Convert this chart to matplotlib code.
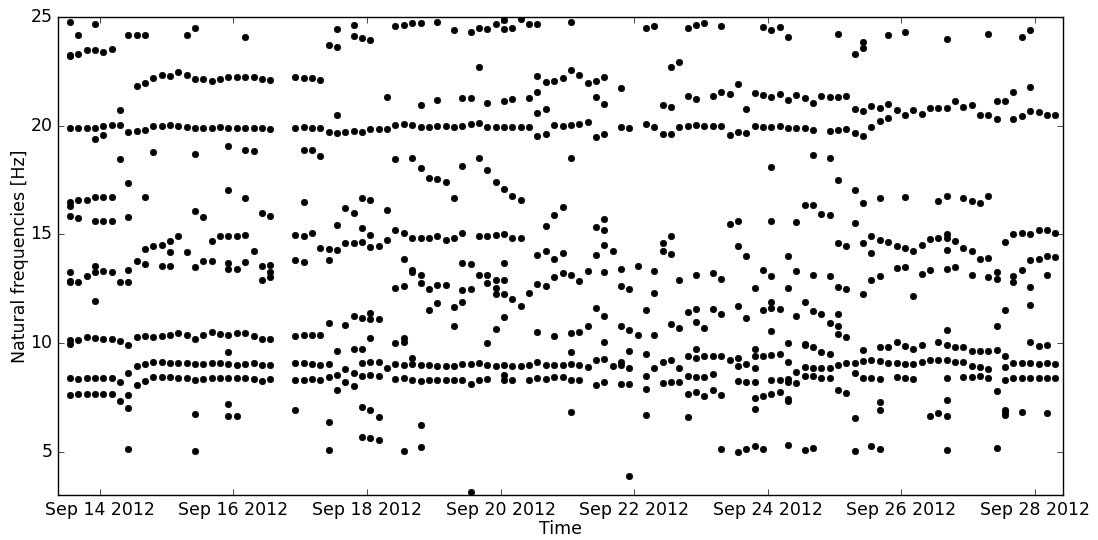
import matplotlib
matplotlib.use('Agg')  # headless
import matplotlib.pyplot as plt
import matplotlib.dates as mdates
import pandas as pd

# --- Data: natural frequencies [Hz] identified every 3 h (one list per time step) ---
START_TIME = '2012-09-13 13:15'
STEP = '3h'

freqs_block1 = [  # Sep 13 afternoon -> Sep 15
    [24.78, 23.2, 23.25, 19.9, 16.5, 16.3, 15.85, 13.25, 12.8, 12.86, 10.12, 9.94, 8.39, 7.6],
    [24.16, 23.28, 19.9, 16.6, 15.74, 12.79, 10.14, 8.34, 7.67],
    [23.47, 19.9, 16.6, 13.1, 10.26, 8.39, 7.64],
    [24.68, 23.47, 19.9, 19.39, 16.72, 15.63, 13.52, 13.26, 11.94, 10.23, 8.39, 7.64],
    [23.4, 20.0, 19.56, 16.72, 15.59, 13.31, 10.18, 8.4, 7.64],
    [23.51, 20.05, 16.72, 15.63, 13.25, 10.18, 8.4, 7.64],
    [20.72, 20.02, 18.47, 12.79, 10.11, 8.19, 7.35],
    [24.16, 19.7, 17.38, 15.79, 13.37, 12.79, 9.91, 8.62, 7.59, 7.01, 5.1],
    [24.16, 21.83, 19.77, 13.75, 10.25, 8.93, 8.08],
    [24.16, 21.95, 19.8, 16.72, 14.33, 13.63, 10.34, 9.03, 8.27],
    [22.21, 19.99, 18.81, 14.45, 10.27, 9.13, 8.44],
    [22.35, 20.0, 14.52, 13.55, 10.34, 9.13, 8.44],
    [22.3, 20.05, 14.7, 14.18, 13.55, 10.38, 9.08, 8.44],
    [22.47, 19.99, 14.9, 10.46, 9.06, 8.4],
    [24.16, 22.32, 19.96, 14.18, 10.35, 9.08, 8.4],
    [24.48, 22.15, 19.91, 18.7, 16.05, 13.48, 10.2, 9.02, 8.31, 6.73, 5.03],
    [22.13, 19.9, 15.79, 13.75, 10.37, 9.03, 8.33],
    [22.07, 19.91, 14.7, 13.75, 10.52, 9.06, 8.4],
    [22.15, 19.92, 14.9, 10.4, 9.06, 8.4],
]

freqs_block2 = [  # Sep 15 -> Sep 18 (short outage on Sep 16 evening)
    [22.22, 19.91, 19.05, 17.06, 14.93, 13.68, 13.42, 10.35, 9.57, 9.05, 8.4, 7.18, 6.63],
    [22.22, 19.91, 14.93, 13.42, 10.44, 9.0, 8.4, 6.63],
    [24.09, 22.22, 19.91, 18.9, 16.65, 14.97, 13.71, 10.44, 9.05, 8.4],
    [22.22, 19.91, 18.82, 14.22, 10.32, 9.08, 8.34],
    [22.16, 19.88, 15.97, 13.52, 12.91, 10.17, 8.97, 8.25],
    [22.09, 19.83, 15.82, 13.6, 13.25, 13.03, 10.17, 8.97, 8.36],
    [],
    [],
    [22.22, 19.88, 14.97, 13.83, 10.32, 9.08, 8.31, 6.9],
    [22.19, 19.93, 18.9, 16.48, 14.9, 13.72, 10.37, 9.08, 8.31],
    [22.21, 19.9, 18.9, 15.05, 10.37, 9.05, 8.34],
    [22.09, 19.9, 18.62, 14.39, 10.37, 8.97, 8.31],
    [23.73, 19.7, 14.3, 13.8, 10.92, 9.03, 8.42, 6.37, 5.05],
    [24.43, 23.62, 20.48, 19.65, 15.42, 14.28, 9.62, 8.51, 7.82],
    [19.71, 16.23, 14.58, 10.84, 8.8, 8.22],
    [24.65, 24.11, 19.76, 15.96, 14.58, 11.24, 9.72, 8.62, 8.02],
    [24.02, 19.71, 16.68, 15.27, 14.64, 11.15, 9.72, 9.08, 8.47, 7.04, 5.68],
    [23.96, 19.83, 16.58, 14.96, 14.42, 11.38, 11.1, 10.24, 9.13, 8.51, 6.9, 5.63],
    [19.83, 14.47, 11.12, 9.11, 8.47, 6.58, 5.54],
    [21.3, 19.85, 16.12, 14.75, 8.83],
]

freqs_block3 = [  # Sep 18 -> Sep 20
    [24.6, 20.02, 18.45, 15.21, 12.53, 9.98, 9.02, 8.34],
    [24.63, 20.08, 15.05, 13.86, 12.63, 10.23, 10.03, 9.0, 8.37, 5.02],
    [24.74, 20.02, 18.5, 14.84, 13.34, 13.25, 9.3, 9.05, 8.31],
    [24.74, 20.94, 19.96, 18.03, 14.84, 13.14, 12.76, 9.0, 8.27, 6.23, 5.2],
    [19.96, 17.58, 14.84, 12.5, 11.5, 9.0, 8.28],
    [24.77, 21.18, 19.97, 17.53, 14.9, 12.68, 11.84, 8.96, 8.28],
    [20.0, 17.4, 14.75, 12.67, 8.96, 8.28],
    [24.4, 19.93, 16.68, 14.85, 11.65, 10.78, 8.96, 8.31],
    [21.26, 20.0, 18.15, 15.08, 13.68, 12.42, 11.87, 9.02, 8.3],
    [24.32, 21.29, 20.06, 13.62, 12.5, 9.05, 8.13, 3.13],
    [24.49, 22.68, 20.1, 18.53, 14.9, 13.14, 9.08, 8.28],
    [24.45, 21.06, 19.93, 17.96, 14.9, 13.11, 12.74, 9.98, 9.0, 8.34],
    [24.68, 19.93, 17.41, 14.97, 12.88, 12.53, 12.25, 10.64, 8.94],
    [24.86, 24.46, 21.15, 19.93, 17.09, 15.0, 13.69, 12.91, 12.25, 11.21, 9.0, 8.53, 8.31],
    [24.48, 21.21, 19.93, 16.77, 14.85, 12.02, 8.94, 8.28],
    [24.89, 19.93, 16.58, 14.84, 11.68, 8.94],
    [24.69, 21.26, 19.93, 12.28, 9.0, 8.31],
    [24.68, 22.3, 21.53, 20.6, 19.53, 14.04, 12.73, 10.5, 9.13, 8.4],
    [22.02, 20.78, 19.6, 15.36, 14.25, 12.6, 9.0, 8.33],
    [22.07, 20.05, 15.91, 13.88, 13.03, 10.34, 8.99, 8.44],
]

freqs_block4 = [  # Sep 20 -> Sep 23
    [22.19, 20.0, 16.25, 14.13, 13.22, 9.0, 8.44],
    [24.75, 22.56, 20.03, 18.5, 13.11, 10.46, 9.58, 9.02, 8.31, 6.81],
    [22.32, 20.08, 12.85, 10.52, 8.97, 8.28],
    [21.96, 20.17, 13.31, 10.78, 8.91],
    [22.07, 21.34, 19.48, 15.33, 14.03, 11.62, 9.2, 8.07],
    [22.25, 20.98, 19.6, 15.71, 15.22, 14.5, 13.28, 11.22, 10.03, 9.26, 8.19],
    [14.25, 8.96],
    [21.75, 19.93, 13.4, 12.6, 10.8, 9.11, 8.99, 8.11],
    [19.91, 12.48, 10.61, 9.62, 8.83, 8.13, 3.87],
    [13.55, 10.35],
    [24.48, 20.08, 11.53, 9.48, 8.5, 7.88, 6.67],
    [24.58, 19.93, 13.29, 12.3, 10.37, 8.83],
    [20.94, 19.63, 14.59, 14.25, 9.13, 8.14],
    [22.71, 20.85, 19.63, 14.9, 14.1, 10.89, 9.2, 8.22],
    [22.94, 19.94, 12.88, 10.7, 8.85, 8.22],
    [24.51, 21.38, 19.97, 11.41, 9.42, 8.5, 7.67, 6.6],
    [24.62, 21.21, 20.02, 13.11, 11.58, 10.96, 9.71, 9.31, 8.44, 7.72],
    [24.71, 20.0, 10.69, 9.42, 8.42, 7.58],
    [21.35, 19.97, 13.23, 11.55, 9.42, 8.56, 7.82],
    [24.6, 21.57, 19.97, 12.96, 11.33, 9.39, 7.59, 5.1],
]

freqs_block5 = [  # Sep 23 -> Sep 25
    [21.44, 19.57, 15.47, 9.2],
    [21.92, 19.7, 15.59, 14.44, 11.72, 9.29, 8.93, 8.24, 4.99],
    [20.75, 19.68, 13.98, 11.15, 9.05, 8.21, 5.1],
    [21.49, 19.97, 12.51, 9.72, 9.39, 8.85, 8.22, 7.46, 6.98, 5.26],
    [24.52, 21.41, 19.94, 13.36, 11.52, 9.42, 7.55, 5.1],
    [24.4, 21.34, 19.94, 18.09, 15.62, 13.1, 11.87, 11.61, 10.54, 9.45, 8.31, 7.67],
    [24.52, 21.47, 20.0, 11.55, 9.48, 8.28, 7.72],
    [24.06, 21.18, 19.88, 14.01, 12.53, 10.0, 9.14, 8.34, 8.22, 7.42, 7.33, 5.32],
    [21.4, 19.88, 15.56, 13.31, 11.22, 8.68, 8.16],
    [21.29, 19.88, 16.37, 11.9, 9.97, 9.9, 8.88, 8.47, 5.08],
    [21.03, 19.79, 18.65, 16.37, 13.11, 11.47, 9.8, 8.86, 8.47, 5.16],
    [21.38, 15.93, 11.32, 9.58, 8.85, 8.4],
    [21.32, 19.76, 18.5, 15.88, 13.1, 10.9, 9.51, 8.83, 8.4],
    [24.22, 21.34, 19.79, 17.52, 14.62, 12.56, 11.35, 10.8, 10.41, 8.97, 7.84],
    [21.35, 19.86, 14.45, 12.48, 10.26, 9.06, 7.7],
    [23.28, 20.77, 19.68, 17.05, 15.54, 9.06, 8.63, 6.55, 5.03],
    [23.85, 23.56, 20.68, 19.54, 16.42, 14.62, 12.27, 9.68, 9.19, 8.4],
    [20.91, 19.93, 14.91, 14.13, 12.88, 9.23, 8.4, 5.25],
    [20.83, 20.22, 16.66, 14.76, 13.08, 9.8, 9.19, 8.36, 7.27, 6.93, 5.13],
]

freqs_block6 = [  # Sep 25 -> Sep 28
    [24.16, 20.98, 20.34, 14.64, 9.8, 9.08],
    [20.72, 14.45, 13.46, 10.05, 9.08, 8.42],
    [24.29, 20.48, 16.72, 14.39, 13.48, 9.88, 9.03, 8.39],
    [20.72, 14.22, 12.17, 9.74, 9.05, 8.36],
    [20.55, 14.5, 13.16, 9.91, 9.11],
    [20.81, 14.78, 13.37, 9.23, 6.63],
    [20.81, 16.55, 14.85, 10.05, 9.22, 6.77],
    [24.0, 20.81, 16.75, 15.0, 14.85, 14.29, 13.4, 10.61, 9.89, 9.22, 8.39, 7.36, 6.63, 5.05],
    [21.14, 14.67, 13.51, 9.8, 9.14],
    [20.88, 16.69, 14.35, 9.83, 9.13, 8.45],
    [20.94, 16.55, 14.24, 13.14, 9.63, 8.96, 8.45],
    [20.51, 16.46, 13.88, 9.63, 8.88, 8.47],
    [24.23, 20.48, 16.74, 13.9, 13.03, 9.63, 8.82, 8.4],
    [21.15, 20.29, 13.25, 12.96, 10.8, 9.69, 7.78, 5.16],
    [21.15, 14.64, 11.52, 9.39, 8.9, 8.31, 6.9, 6.81, 6.69],
    [21.55, 20.29, 15.0, 13.06, 12.82, 9.08, 8.4],
    [24.09, 20.43, 15.05, 13.37, 9.08, 8.4, 6.81],
    [24.39, 21.8, 20.69, 15.02, 13.8, 12.56, 11.76, 10.03, 9.08, 8.4],
    [20.63, 15.22, 13.86, 9.86, 9.05, 8.4],
    [20.49, 15.22, 14.01, 13.14, 9.89, 9.08, 8.4, 6.77],
    [20.49, 15.05, 13.94, 9.05, 8.4],
]

XLIM = ('2012-09-13 09:00', '2012-09-28 10:00')
YLIM = (3, 25)


def main():
    steps = (freqs_block1 + freqs_block2 + freqs_block3
             + freqs_block4 + freqs_block5 + freqs_block6)
    times = pd.date_range(START_TIME, periods=len(steps), freq=STEP)

    # flatten into (time, freq) pairs
    t_pts, f_pts = [], []
    for t, fs in zip(times, steps):
        for f in fs:
            t_pts.append(t)
            f_pts.append(f)

    plt.style.use('classic')
    fig = plt.figure(figsize=(10.98, 5.40), dpi=100, facecolor='white')
    ax = fig.add_axes([0.0528, 0.0833, 0.9152, 0.8852])

    ax.plot(t_pts, f_pts, 'o', color='k', markersize=4.6,
            markeredgewidth=0.5, linestyle='none')

    ax.set_xlim(pd.Timestamp(XLIM[0]), pd.Timestamp(XLIM[1]))
    ax.set_ylim(*YLIM)
    ax.set_yticks([5, 10, 15, 20, 25])
    ax.xaxis.set_major_locator(mdates.DayLocator(bymonthday=range(14, 29, 2)))
    ax.xaxis.set_major_formatter(mdates.DateFormatter('%b %d %Y'))
    ax.tick_params(labelsize=12.5)

    ax.set_xlabel('Time', fontsize=12.5, labelpad=1)
    ax.set_ylabel('Natural frequencies [Hz]', fontsize=12.5, labelpad=1)

    fig.savefig('out.png', dpi=100, facecolor='white')
    plt.close(fig)


if __name__ == "__main__":
    main()
